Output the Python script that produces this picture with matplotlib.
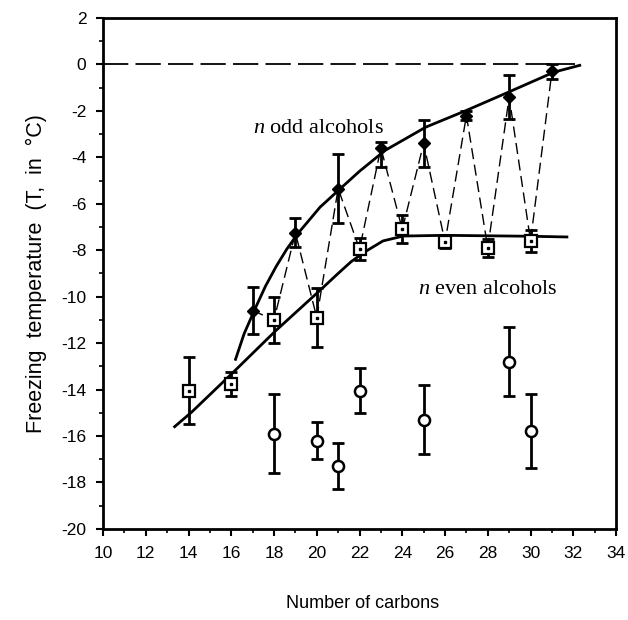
import matplotlib
matplotlib.use("Agg")
import matplotlib.pyplot as plt
from matplotlib.ticker import MultipleLocator

plt.rcParams["axes.unicode_minus"] = False
plt.rcParams["mathtext.fontset"] = "custom"
plt.rcParams["mathtext.rm"] = "Liberation Serif"
plt.rcParams["mathtext.it"] = "Liberation Serif:italic"

# n odd alcohols (filled diamonds)
odd_n = [17, 19, 21, 23, 25, 27, 29, 31]
odd_T = [-10.6, -7.25, -5.35, -3.6, -3.4, -2.2, -1.4, -0.3]
odd_err_lo = [1.0, 0.62, 1.5, 0.8, 1.0, 0.18, 0.95, 0.33]
odd_err_hi = [1.0, 0.62, 1.5, 0.25, 1.0, 0.18, 0.95, 0.33]

# n even alcohols (open squares)
even_n = [14, 16, 18, 20, 22, 24, 26, 28, 30]
even_T = [-14.05, -13.75, -11.0, -10.9, -7.95, -7.1, -7.65, -7.9, -7.6]
even_err = [1.45, 0.52, 1.0, 1.28, 0.47, 0.6, 0.27, 0.4, 0.47]

# other series (open circles)
circ_n = [18, 20, 21, 22, 25, 29, 30]
circ_T = [-15.9, -16.2, -17.3, -14.05, -15.3, -12.8, -15.8]
circ_err = [1.7, 0.8, 1.0, 0.97, 1.48, 1.48, 1.6]

# smooth guide curves
odd_fit_n = [16.2, 16.6, 17.1, 17.6, 18.1, 18.6, 19.1, 20.15, 21.1, 22.0, 23.2, 25.1, 27.0, 29.0, 31.1, 32.3]
odd_fit_T = [-12.7, -11.6, -10.55, -9.55, -8.7, -7.95, -7.3, -6.15, -5.35, -4.6, -3.7, -2.7, -1.98, -1.18, -0.33, -0.04]
even_fit_n = [13.35, 14.15, 16.1, 18.1, 20.15, 21.0, 21.6, 22.2, 23.1, 24.05, 26, 28, 30, 31.7]
even_fit_T = [-15.6, -14.97, -13.25, -11.45, -9.73, -9.0, -8.5, -8.1, -7.6, -7.39, -7.36, -7.38, -7.4, -7.43]

zero_n = [10, 32.1]

fig = plt.figure(figsize=(6.28, 6.20), dpi=100)
ax = fig.add_axes([0.164, 0.147, 0.817, 0.824])

# reference line at 0 degC
ax.plot(zero_n, [0, 0], color="black", lw=1.3, dashes=(14, 4))

# zigzag between odd and even points
zig = sorted(zip(odd_n + even_n, odd_T + even_T))
zig = [p for p in zig if p[0] >= 17]
ax.plot([p[0] for p in zig], [p[1] for p in zig], color="black", lw=1.0, dashes=(8, 4))

ax.plot(odd_fit_n, odd_fit_T, color="black", lw=2.0)
ax.plot(even_fit_n, even_fit_T, color="black", lw=2.0)

eb = dict(fmt="none", ecolor="black", elinewidth=2.0, capsize=4, capthick=2.0, zorder=3)
ax.errorbar(odd_n, odd_T, yerr=[odd_err_lo, odd_err_hi], **eb)
ax.errorbar(even_n, even_T, yerr=even_err, **eb)
ax.errorbar(circ_n, circ_T, yerr=circ_err, **eb)

ax.plot(odd_n, odd_T, "D", ms=6, color="black", zorder=4)
ax.plot(even_n, even_T, "s", ms=8, mfc="white", mec="black", mew=1.6, zorder=4)
ax.plot(even_n, even_T, "s", ms=2, color="black", zorder=5)
ax.plot(circ_n, circ_T, "o", ms=8, mfc="white", mec="black", mew=1.8, zorder=4)

ax.text(17.0, -2.75, r"$\it{n}$ odd alcohols", family="Liberation Serif",
        fontsize=16, va="center", ha="left")
ax.text(24.75, -9.7, r"$\it{n}$ even alcohols", family="Liberation Serif",
        fontsize=16, va="center", ha="left")

ax.set_xlim(10, 34)
ax.set_ylim(-20, 2)
ax.xaxis.set_major_locator(MultipleLocator(2))
ax.xaxis.set_minor_locator(MultipleLocator(1))
ax.yaxis.set_major_locator(MultipleLocator(2))
ax.yaxis.set_minor_locator(MultipleLocator(1))
ax.tick_params(which="major", direction="out", length=5, width=1.5,
               labelsize=12.5, pad=7)
ax.tick_params(which="minor", direction="out", length=3, width=1.2)
for lab in ax.get_xticklabels() + ax.get_yticklabels():
    lab.set_family("Liberation Sans")
for s in ax.spines.values():
    s.set_linewidth(2.0)

ax.set_ylabel("Freezing  temperature  (T,  in  °C)", family="Liberation Sans",
              fontsize=15.5, labelpad=10)
fig.text(0.578, 0.027, "Number of carbons", family="Liberation Sans",
         fontsize=13, ha="center", va="center")

fig.savefig("out.png", dpi=100)
